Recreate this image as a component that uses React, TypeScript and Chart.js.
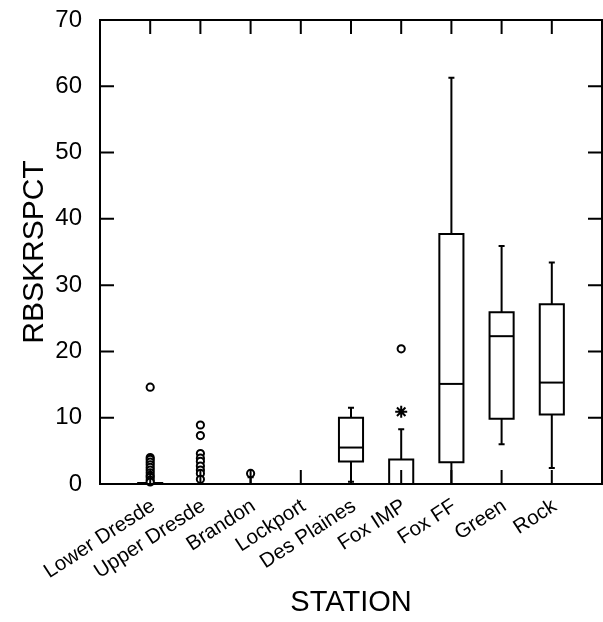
import React, { useEffect, useRef } from 'react';
import { Chart, registerables } from 'chart.js';

Chart.register(...registerables);

// ---- data ----
const stations = ['Lower Dresde', 'Upper Dresde', 'Brandon', 'Lockport', 'Des Plaines', 'Fox IMP', 'Fox FF', 'Green', 'Rock'];
const whiskerLow: (number | null)[] = [0, 0, 0, null, 0.35, 0, 0, 6.0, 2.4];
const q1: (number | null)[] = [0, 0, 0, null, 3.4, 0, 3.3, 9.85, 10.5];
const median: (number | null)[] = [0, 0, 0, null, 5.5, 0, 15.1, 22.3, 15.3];
const q3: (number | null)[] = [0.15, 0, 0, null, 10.0, 3.7, 37.7, 25.9, 27.1];
const whiskerHigh: (number | null)[] = [0.15, 0, 1.0, null, 11.5, 8.25, 61.3, 35.9, 33.4];

// far-outside values (circles): station index + value
const farOutStation = [0, 0, 0, 0, 0, 0, 0, 0, 0, 0, 0, 0, 1, 1, 1, 1, 1, 1, 1, 1, 1, 2, 5];
const farOutValue = [14.6, 4.0, 3.7, 3.3, 2.9, 2.5, 2.1, 1.7, 1.3, 1.0, 0.6, 0.3, 8.9, 7.3, 4.6, 3.9, 3.4, 2.7, 2.1, 1.6, 0.7, 1.6, 20.4];
// outside values (asterisks)
const outStation = [5];
const outValue = [10.9];

const yTicks = [0, 10, 20, 30, 40, 50, 60, 70];
const xMin = 0;
const xMax = 10;

const FONT = '"Liberation Sans", Arial, Helvetica, sans-serif';

const boxPlugin = {
  id: 'systatBoxes',
  beforeDatasetsDraw(chart: any) {
    const { ctx, scales } = chart;
    const x = scales.x;
    const y = scales.y;
    ctx.save();
    ctx.strokeStyle = '#000';
    ctx.fillStyle = '#fff';
    ctx.lineWidth = 2;
    const boxHalf = 0.24;
    const capHalf = 0.06;
    stations.forEach((_, i) => {
      if (q1[i] === null) return;
      const c = i + 1;
      const cx = x.getPixelForValue(c);
      const l = x.getPixelForValue(c - boxHalf);
      const r = x.getPixelForValue(c + boxHalf);
      const pQ1 = y.getPixelForValue(q1[i] as number);
      const pQ3 = y.getPixelForValue(q3[i] as number);
      const pMed = y.getPixelForValue(median[i] as number);
      const pLo = y.getPixelForValue(whiskerLow[i] as number);
      const pHi = y.getPixelForValue(whiskerHigh[i] as number);
      const cl = x.getPixelForValue(c - capHalf);
      const cr = x.getPixelForValue(c + capHalf);
      ctx.beginPath();
      ctx.moveTo(cx, pQ3);
      ctx.lineTo(cx, pHi);
      ctx.moveTo(cx, pQ1);
      ctx.lineTo(cx, pLo);
      if ((whiskerHigh[i] as number) > (q3[i] as number)) {
        ctx.moveTo(cl, pHi);
        ctx.lineTo(cr, pHi);
      }
      if ((whiskerLow[i] as number) < (q1[i] as number) && (whiskerLow[i] as number) > 0) {
        ctx.moveTo(cl, pLo);
        ctx.lineTo(cr, pLo);
      }
      ctx.stroke();
      ctx.beginPath();
      ctx.rect(l, pQ3, r - l, pQ1 - pQ3);
      ctx.fill();
      ctx.stroke();
      ctx.beginPath();
      ctx.moveTo(l, pMed);
      ctx.lineTo(r, pMed);
      ctx.stroke();
    });
    ctx.restore();
  },
  afterDraw(chart: any) {
    const { ctx, scales, chartArea } = chart;
    const x = scales.x;
    const y = scales.y;
    const { left, right, top, bottom } = chartArea;
    ctx.save();
    ctx.strokeStyle = '#000';
    ctx.lineWidth = 2;
    ctx.strokeRect(left, top, right - left, bottom - top);
    const tl = 14;
    ctx.beginPath();
    yTicks.forEach((v) => {
      const py = y.getPixelForValue(v);
      ctx.moveTo(left, py);
      ctx.lineTo(left + tl, py);
      ctx.moveTo(right, py);
      ctx.lineTo(right - tl, py);
    });
    stations.forEach((_, i) => {
      const px = x.getPixelForValue(i + 1);
      ctx.moveTo(px, top);
      ctx.lineTo(px, top + tl);
      ctx.moveTo(px, bottom);
      ctx.lineTo(px, bottom - tl);
    });
    ctx.stroke();
    ctx.restore();
  },
};

export default function App() {
  const ref = useRef<HTMLCanvasElement | null>(null);

  useEffect(() => {
    if (!ref.current) return;
    const farData = farOutStation.map((s, k) => ({ x: s + 1, y: farOutValue[k] }));
    const outData = outStation.map((s, k) => ({ x: s + 1, y: outValue[k] }));
    const chart = new Chart(ref.current, {
      type: 'scatter',
      data: {
        datasets: [
          {
            label: 'far outside',
            data: farData,
            pointStyle: 'circle',
            radius: 3.6,
            borderWidth: 2,
            borderColor: '#000',
            backgroundColor: '#fff',
            clip: false,
          } as any,
          {
            label: 'outside',
            data: outData,
            pointStyle: 'star',
            radius: 6,
            borderWidth: 2,
            borderColor: '#000',
            backgroundColor: '#000',
            clip: false,
          } as any,
        ],
      },
      options: {
        animation: false,
        responsive: false,
        events: [],
        layout: { autoPadding: false, padding: { top: 20, right: 1, left: 0, bottom: 0 } },
        plugins: {
          legend: { display: false },
          tooltip: { enabled: false },
        },
        scales: {
          x: {
            type: 'linear',
            min: xMin,
            max: xMax,
            grid: { display: false, drawTicks: false },
            border: { display: false },
            afterFit: (s: any) => {
              s.height = 138;
              s.paddingLeft = 0;
              s.paddingRight = 0;
            },
            ticks: {
              stepSize: 1,
              autoSkip: false,
              minRotation: 33,
              maxRotation: 33,
              padding: 10,
              labelOffset: 3,
              color: '#000',
              font: { family: FONT, size: 20.5 },
              callback: (v: any) => stations[Number(v) - 1] ?? '',
            },
            title: {
              display: true,
              text: 'STATION',
              color: '#000',
              font: { family: FONT, size: 29 },
              padding: { top: 0, bottom: 2 },
            },
          },
          y: {
            min: 0,
            max: 70,
            grid: { display: false, drawTicks: false },
            border: { display: false },
            afterFit: (s: any) => {
              s.width = 100;
              s.paddingTop = 0;
              s.paddingBottom = 0;
            },
            ticks: {
              stepSize: 10,
              padding: 18,
              color: '#000',
              font: { family: FONT, size: 24 },
            },
            title: {
              display: true,
              text: 'RBSKRSPCT',
              color: '#000',
              font: { family: FONT, size: 30 },
              padding: { top: 17, bottom: 0 },
            },
          },
        },
      },
      plugins: [boxPlugin],
    } as any);
    return () => chart.destroy();
  }, []);

  return (
    <div style={{ position: 'fixed', left: 0, top: 0, width: 603, height: 622, background: '#fff' }}>
      <canvas ref={ref} width={603} height={622} style={{ width: 603, height: 622, display: 'block' }} />
    </div>
  );
}
